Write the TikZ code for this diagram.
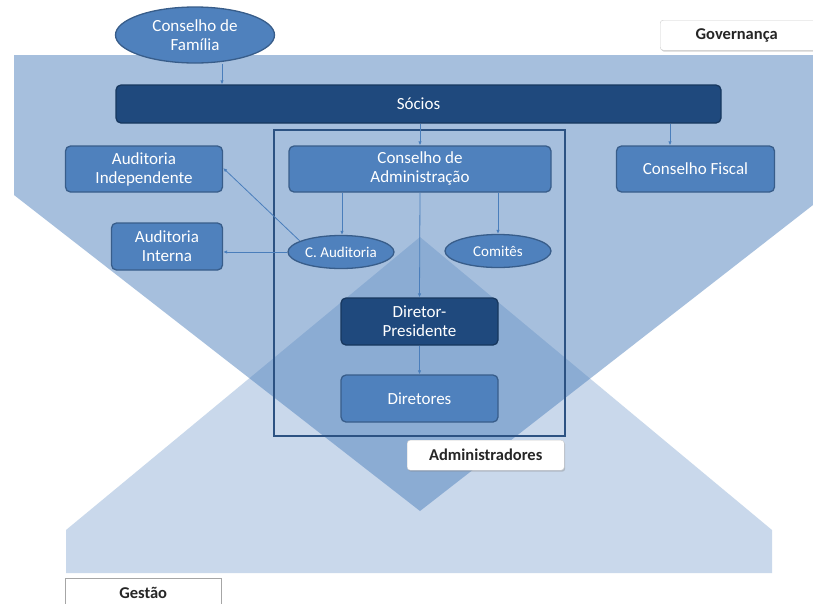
\documentclass[tikz,border=0pt]{standalone}
\usepackage{fontspec}
\setmainfont{Carlito}
\usetikzlibrary{arrows.meta,shapes.geometric,shadows}
\definecolor{mid}{HTML}{4F81BD}
\definecolor{midb}{HTML}{385D8A}
\definecolor{dark}{HTML}{1F497D}
\definecolor{darkb}{HTML}{17375E}
\definecolor{arrc}{HTML}{4A7EBB}
\definecolor{frame}{HTML}{2C5282}
\tikzset{
  box/.style={draw=midb, line width=1.3pt, fill=mid, rounded corners=5pt, text=white,
    font=\fontsize{17}{19}\selectfont, align=center, inner sep=0pt},
  darkbox/.style={box, draw=darkb, fill=dark},
  oval/.style={ellipse, draw=midb, line width=1.3pt, fill=mid, text=white,
    font=\fontsize{15}{17}\selectfont, align=center, inner sep=0pt},
  arr/.style={draw=arrc, line width=0.8pt, -{Latex[length=4pt,width=3.5pt]}},
  tag/.style={fill=white, draw=black!20, line width=0.4pt, rounded corners=3pt,
    drop shadow={shadow xshift=1pt, shadow yshift=-1.5pt, opacity=0.35},
    font=\bfseries\fontsize{16.5}{18}\selectfont, text=black!85, inner sep=0pt},
}
\begin{document}
\begin{tikzpicture}[x=1pt,y=-1pt]
\useasboundingbox (0,0) rectangle (813,603);
\fill[white] (0,0) rectangle (813,603);
% Gestao shape
\fill[mid, fill opacity=0.3] (66,573) -- (66,530) -- (420,237) -- (772,530) -- (772,573) -- cycle;
% Governanca shape
\fill[mid, fill opacity=0.5] (14,55) -- (813,55) -- (813,205) -- (420,511) -- (14,195) -- cycle;
% frame
\draw[frame, line width=1.5pt] (274,130) rectangle (565,436);
% tags
\node[tag, minimum width=170pt, minimum height=30pt, anchor=north west] (gov) at (660,20) {\hspace*{-17pt}Governança};
\node[tag, minimum width=157pt, minimum height=30pt, anchor=north west] (adm) at (407,440) {Administradores};
\node[tag, minimum width=156pt, minimum height=30pt, anchor=north west, rounded corners=0pt, draw=black!35] (ges) at (65,578) {Gestão};
% nodes
\node[oval, minimum width=159pt, minimum height=56pt, font=\fontsize{17}{19}\selectfont] (fam) at (195,35) {Conselho de\\Família};
\node[darkbox, minimum width=605pt, minimum height=38pt] (soc) at (418.5,104) {Sócios};
\node[box, minimum width=262pt, minimum height=46pt] (cadm) at (420,169) {Conselho de\\Administração};
\node[box, minimum width=157pt, minimum height=46pt] (aind) at (144,169) {Auditoria\\Independente};
\node[box, minimum width=158pt, minimum height=46pt] (cfis) at (695.5,169) {Conselho Fiscal};
\node[box, minimum width=111pt, minimum height=47pt] (aint) at (167,246.5) {Auditoria\\Interna};
\node[oval, minimum width=106pt, minimum height=33pt] (caud) at (341,252) {C. Auditoria};
\node[oval, minimum width=106pt, minimum height=33pt] (com) at (498,251) {Comitês};
\node[darkbox, minimum width=157pt, minimum height=47pt] (dp) at (419.5,321.5) {Diretor-\\Presidente};
\node[box, minimum width=157pt, minimum height=47pt] (dir) at (419.5,398.5) {Diretores};
% connectors
\draw[arr] ([xshift=27pt]fam.south) -- ([xshift=27pt]fam.south |- soc.north);
\draw[arr] (soc.south -| cadm.north) -- (cadm.north);
\draw[arr] ([xshift=-25.5pt]soc.south -| cfis.north) -- ([xshift=-25.5pt]cfis.north);
\draw[arr] ([xshift=-78pt]cadm.south) -- ([xshift=-78pt]cadm.south |- caud.north);
\draw[arr] ([xshift=78pt]cadm.south) -- ([xshift=78pt]cadm.south |- com.north);
\draw[arr] (cadm.south) -- (dp.north);
\draw[arr] (dp.south) -- (dir.north);
\draw[arr] (caud.165) -- ([yshift=1pt]aind.east);
\draw[arr] (caud.west) -- (caud.west -| aint.east);
\end{tikzpicture}
\end{document}
